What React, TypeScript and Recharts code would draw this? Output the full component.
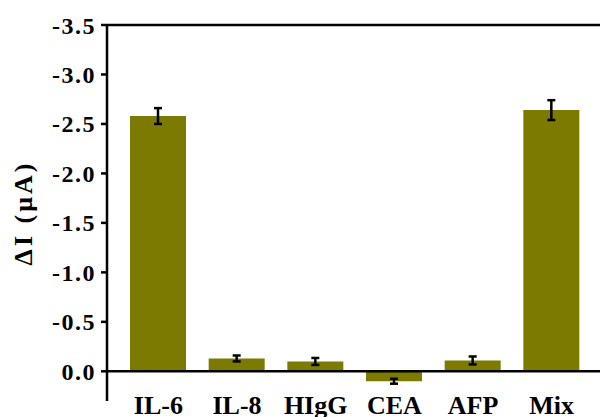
import {
  Bar,
  BarChart,
  ErrorBar,
  ReferenceLine,
  XAxis,
  YAxis,
} from "recharts"

const categories = ["IL-6", "IL-8", "HIgG", "CEA", "AFP", "Mix"]
const deltaI = [-2.58, -0.13, -0.1, 0.1, -0.11, -2.64]
const errors = [0.08, 0.03, 0.035, 0.025, 0.04, 0.1]
const yTicks = [-3.5, -3.0, -2.5, -2.0, -1.5, -1.0, -0.5, 0.0]

const rows = categories.map((c, i) => ({ name: c, v: deltaI[i], err: errors[i] }))

const font = "'Liberation Serif', 'Times New Roman', serif"

export default function App() {
  return (
    <div style={{ position: "absolute", left: 0, top: 0, background: "#fff" }}>
      <BarChart
        width={600}
        height={417}
        data={rows}
        margin={{ top: 25, right: 0, bottom: 0, left: 0 }}
      >
        <XAxis
          dataKey="name"
          height={16}
          axisLine={false}
          tickLine={false}
          interval={0}
          padding={{ left: 12, right: 9 }}
          tick={{ fill: "#000", fontSize: 26, fontWeight: "bold", fontFamily: font, dy: -13 }}
        />
        <YAxis
          reversed
          domain={[-3.5, 0.3]}
          ticks={yTicks}
          allowDataOverflow
          width={107}
          axisLine={{ stroke: "#000", strokeWidth: 2.5 }}
          tickLine={{ stroke: "#000", strokeWidth: 2.5 }}
          tickSize={6}
          tickMargin={5}
          tickFormatter={(v: number) => v.toFixed(1)}
          tick={{ fill: "#000", fontSize: 24, fontWeight: "bold", fontFamily: font, letterSpacing: 1.5 }}
          label={{
            value: "ΔI (μA)",
            angle: -90,
            position: "insideLeft",
            offset: 23,
            style: { fill: "#000", fontSize: 26, fontWeight: "bold", fontFamily: font, textAnchor: "middle", letterSpacing: 3 },
          }}
        />
        <ReferenceLine y={-3.5} stroke="#000" strokeWidth={2.5} />
        <Bar dataKey="v" fill="#7c7a00" barSize={56} isAnimationActive={false}>
          <ErrorBar dataKey="err" width={4} stroke="#000" strokeWidth={2.5} direction="y" />
        </Bar>
        <ReferenceLine y={0} stroke="#000" strokeWidth={2.5} />
      </BarChart>
    </div>
  )
}
